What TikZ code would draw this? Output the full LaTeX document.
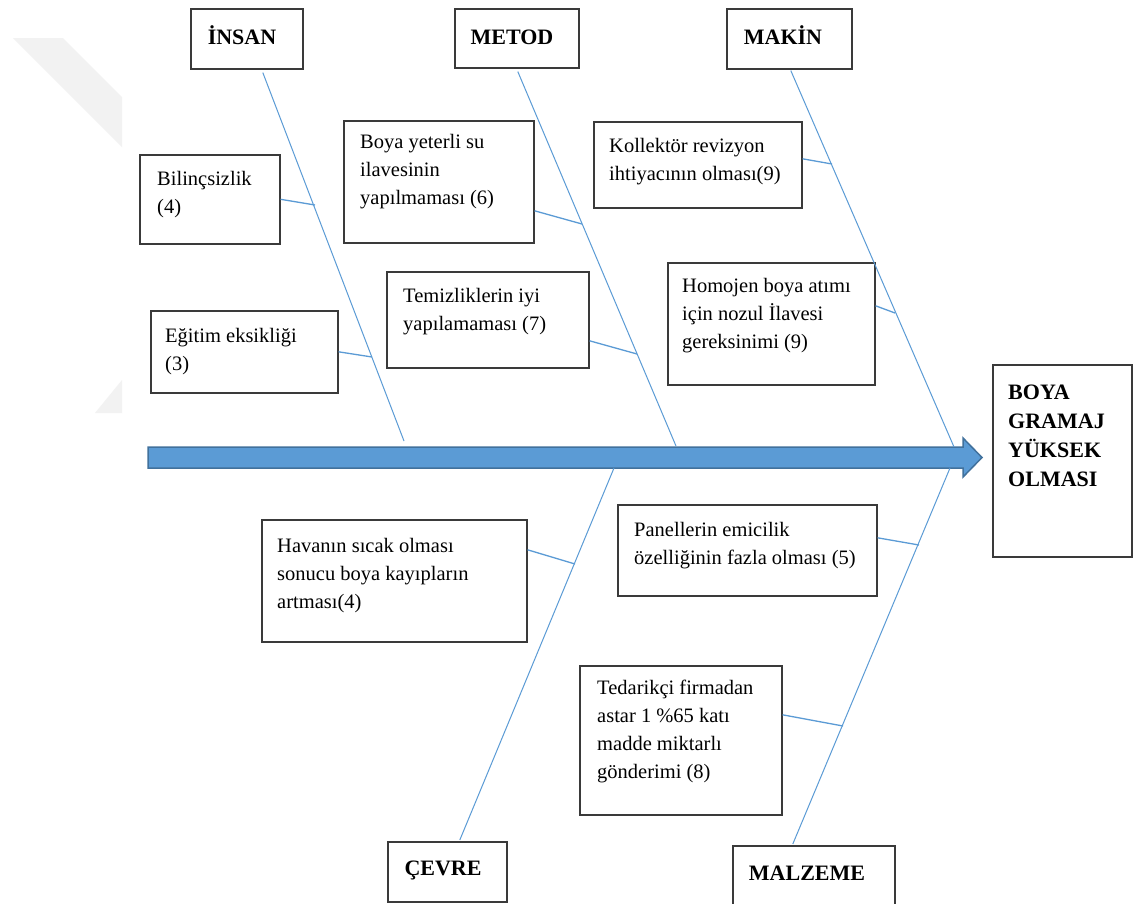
\documentclass[tikz,border=0pt]{standalone}
\usepackage{fontspec}
\setmainfont{Liberation Serif}
\definecolor{bonec}{HTML}{5B9BD5}
\definecolor{arrfill}{HTML}{5B9BD5}
\definecolor{arrline}{HTML}{41719C}
\definecolor{boxc}{HTML}{3A3A3A}
\definecolor{wmc}{HTML}{F2F2F2}
\begin{document}
\begin{tikzpicture}[x=1pt,y=-1pt,
  box/.style={draw=boxc, line width=1.6pt, inner sep=0pt, fill=white, anchor=north west},
  hd/.style={font=\fontsize{22}{29}\selectfont\bfseries, inner sep=0pt, anchor=base},
  res/.style={font=\fontsize{22}{29}\selectfont\bfseries, inner sep=0pt, align=left, anchor=base west},
  tx/.style={font=\fontsize{20.5}{28}\selectfont, inner sep=0pt, align=left, anchor=base west},
  bone/.style={draw=bonec, line width=1pt},
  twig/.style={draw=bonec, line width=1.3pt}]
\useasboundingbox (0,0) rectangle (1134,903);
\fill[white] (0,0) rectangle (1134,903);
% faint watermark
\fill[wmc] (13,38) -- (63,38) -- (122,97) -- (122,147) -- cycle;
\fill[wmc] (122,380) -- (122,413) -- (95,413) -- cycle;

% main arrow
\draw[fill=arrfill, draw=arrline, line width=1.5pt, line join=miter]
  (148,447) -- (963,447) -- (963,438) -- (982,457.5) -- (963,477) -- (963,468) -- (148,468) -- cycle;

% category boxes
\node[box, minimum width=112pt, minimum height=60pt] (insan) at (190,8) {};
\node[hd] (insan-t) at (242,44) {İNSAN};
\node[box, minimum width=124pt, minimum height=59pt] (metod) at (454,8) {};
\node[hd] (metod-t) at (512,44) {METOD};
\node[box, minimum width=125pt, minimum height=60pt] (makin) at (726,8) {};
\node[hd] (makin-t) at (783,44) {MAKİN};
\node[box, minimum width=119pt, minimum height=60pt] (cevre) at (387,841) {};
\node[hd] (cevre-t) at (443,875) {ÇEVRE};
\node[box, minimum width=162pt, minimum height=62pt] (malzeme) at (732,845) {};
\node[hd] (malzeme-t) at (807,880) {MALZEME};

% result box
\node[box, minimum width=139pt, minimum height=192pt] (sonuc) at (992,364) {};
\node[res] (sonuc-t) at (1008,486) {BOYA\\GRAMAJ\\YÜKSEK\\OLMASI};

% cause boxes
\node[box, minimum width=140pt, minimum height=89pt] (bil) at (139,154) {};
\node[tx] (bil-t) at (157,213) {Bilinçsizlik\\(4)};
\node[box, minimum width=187pt, minimum height=82pt] (egi) at (150,310) {};
\node[tx] (egi-t) at (165,370) {Eğitim eksikliği\\(3)};
\node[box, minimum width=190pt, minimum height=122pt] (boy) at (343,120) {};
\node[tx] (boy-t) at (360,204) {Boya yeterli su\\ilavesinin\\yapılmaması (6)};
\node[box, minimum width=202pt, minimum height=96pt] (tem) at (386,271) {};
\node[tx] (tem-t) at (403,330) {Temizliklerin iyi\\yapılamaması (7)};
\node[box, minimum width=208pt, minimum height=86pt] (kol) at (593,121) {};
\node[tx] (kol-t) at (609,180) {Kollektör revizyon\\ihtiyacının olması(9)};
\node[box, minimum width=207pt, minimum height=122pt] (hom) at (667,262) {};
\node[tx] (hom-t) at (682,348) {Homojen boya atımı\\için nozul İlavesi\\gereksinimi (9)};
\node[box, minimum width=265pt, minimum height=122pt] (hav) at (261,519) {};
\node[tx] (hav-t) at (277,608) {Havanın sıcak olması\\sonucu boya kayıpların\\artması(4)};
\node[box, minimum width=259pt, minimum height=91pt] (pan) at (617,504) {};
\node[tx] (pan-t) at (634,564) {Panellerin emicilik\\özelliğinin fazla olması (5)};
\node[box, minimum width=202pt, minimum height=149pt] (ted) at (579,665) {};
\node[tx] (ted-t) at (597,778) {Tedarikçi firmadan\\astar 1 \%65 katı\\madde miktarlı\\gönderimi (8)};

% bone end points on the arrow
\coordinate (iE) at (404,441);
\coordinate (mE) at (676,446);
\coordinate (kE) at (954,447);
\coordinate (cE) at (614,468);
\coordinate (zE) at (950,468);
% twig points on the bones
\coordinate (bilP) at (315,205);
\coordinate (egiP) at (372,357);
\coordinate (boyP) at (582,224);
\coordinate (temP) at (637,354);
\coordinate (kolP) at (832,164);
\coordinate (homP) at (895,313);
\coordinate (havP) at (575,564);
\coordinate (panP) at (919,545);
\coordinate (tedP) at (843,726);

% bones
\draw[bone] ([xshift=16pt,yshift=-3pt]insan.south) -- (iE);
\draw[bone] ([xshift=1pt,yshift=-3pt]metod.south) -- (mE);
\draw[bone] ([xshift=1.5pt,yshift=-1pt]makin.south) -- (kE);
\draw[bone] ([xshift=12.5pt,yshift=1pt]cevre.north) -- (cE);
\draw[bone] ([xshift=-21pt,yshift=1pt]malzeme.north) -- (zE);

% twigs
\draw[twig] (bil.east) -- (bilP);
\draw[twig] (egi.east) -- (egiP);
\draw[twig] ([yshift=-29pt]boy.east) -- (boyP);
\draw[twig] ([yshift=-21pt]tem.east) -- (temP);
\draw[twig] ([yshift=6pt]kol.east) -- (kolP);
\draw[twig] ([yshift=18pt]hom.east) -- (homP);
\draw[twig] ([yshift=31pt]hav.east) -- (havP);
\draw[twig] ([yshift=12.5pt]pan.east) -- (panP);
\draw[twig] ([yshift=25.5pt]ted.east) -- (tedP);
\end{tikzpicture}
\end{document}
